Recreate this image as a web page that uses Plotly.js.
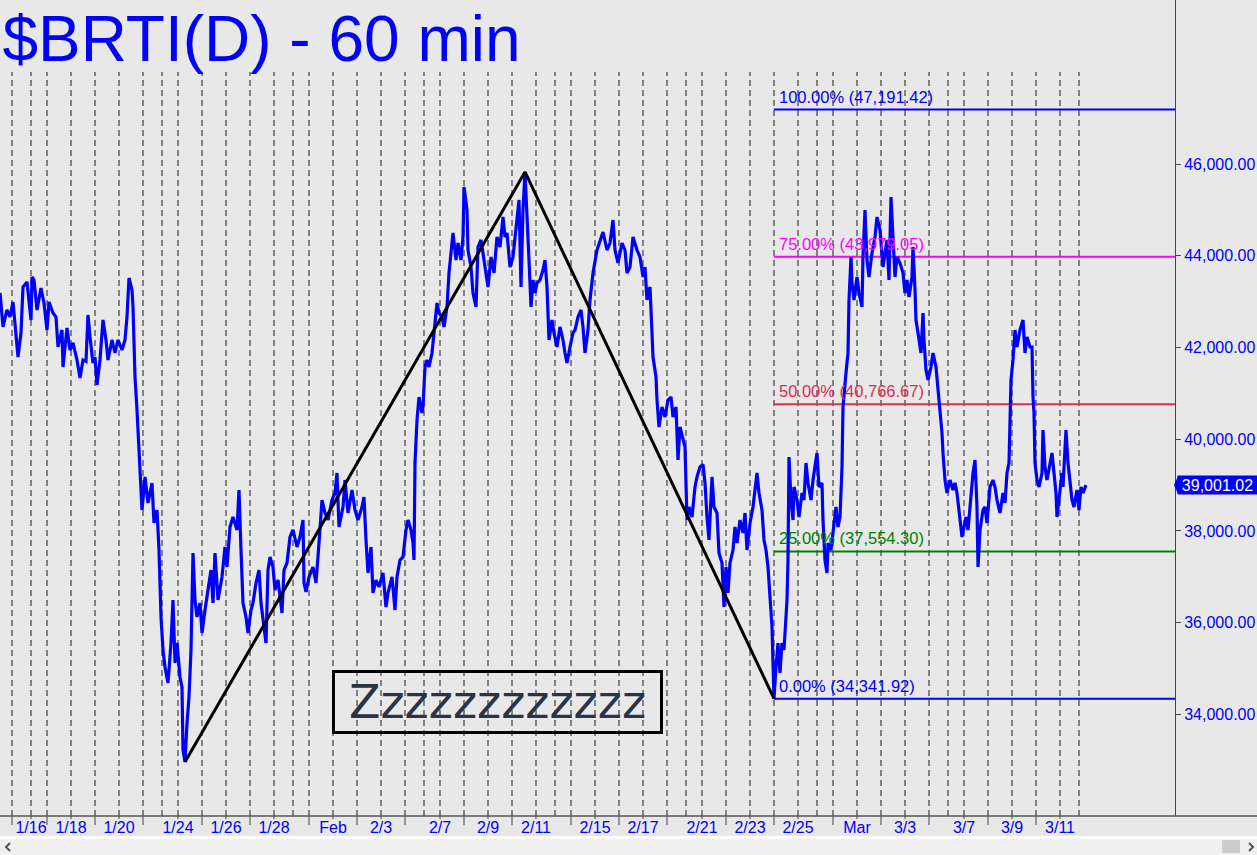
<!DOCTYPE html>
<html><head><meta charset="utf-8">
<script src="https://cdn.plot.ly/plotly-3.0.1.min.js"></script>
<style>html,body{margin:0;padding:0;background:#e8e8e8;overflow:hidden}#chart{width:1257px;height:855px}</style>
</head><body><div id="chart"></div>
<script>
// ---------- DATA ----------
const titleText = '$BRTI(D) - 60 min';
const firstSessionBar = 12;              // hourly bar index where the 1/14 session starts
const firstSession = [2022, 0, 14];
const lastSession = [2022, 2, 13];
const labeledDays = ['1/16','1/18','1/20','1/24','1/26','1/28','2/1','2/3','2/7','2/9','2/11','2/15','2/17','2/21','2/23','2/25','3/1','3/3','3/7','3/9','3/11'];
const monthLabels = {'2/1':'Feb','3/1':'Mar'};

// [hourly bar index, price]
const hourlyPath = [
[0,43191],[3,42450],[7,42820],[10,42668],[13,42995],[15,42450],[18,41795],[21,42319],[23,43322],[27,43430],
[28,43191],[31,42602],[32,43540],[34,43474],[37,42820],[41,43300],[44,42973],[47,42384],[49,42995],[53,42755],
[56,42668],[58,42013],[62,42384],[63,41577],[67,42428],[70,41947],[73,42101],[77,41730],[80,41337],[83,41730],
[86,41700],[88,42711],[90,42231],[93,41664],[95,41795],[97,41184],[100,41730],[103,42602],[106,42166],[108,41730],
[112,42166],[115,41882],[118,42166],[122,41947],[125,42166],[127,42668],[129,43518],[132,43256],[133,42886],[135,41359],
[137,40639],[138,40137],[140,39483],[142,38458],[145,39178],[148,38611],[152,39047],[154,38175],[157,38458],[159,37585],
[161,36124],[163,35404],[165,35034],[168,34685],[171,35557],[173,36495],[175,35121],[177,35557],[180,34816],[182,34598],
[183,33224],[185,32962],[187,33812],[189,34379],[191,35404],[193,37520],[195,36495],[197,36124],[200,36430],[202,35776],
[205,36277],[208,36779],[211,37149],[213,36430],[215,37520],[218,36495],[222,36997],[225,37651],[227,37215],[230,38087],
[233,38305],[237,38022],[239,38894],[241,37585],[243,36430],[246,36124],[248,35776],[251,36277],[253,36430],[256,36866],
[259,37149],[261,36430],[263,36124],[266,35557],[268,37149],[270,37433],[273,37215],[275,36713],[278,36931],[282,36212],
[284,37149],[287,37302],[290,37869],[293,38022],[297,37651],[300,37869],[303,38240],[304,36866],[306,36670],[309,36997],
[313,37215],[316,36866],[319,37738],[322,38676],[325,38393],[328,38240],[332,38676],[335,38829],[337,39265],[339,38087],
[343,38523],[345,39112],[348,38393],[352,38894],[355,38458],[358,38240],[362,38523],[364,38741],[366,37804],[368,37084],
[371,37651],[373,36648],[376,36931],[379,36779],[383,37084],[386,36342],[388,36648],[392,36997],[395,36277],[397,36997],
[400,37367],[403,37433],[406,38022],[408,38240],[411,38022],[413,37738],[414,37367],[415,39483],[417,40421],[419,40922],
[422,40573],[423,40704],[425,41577],[427,41730],[429,41577],[432,41882],[434,42319],[437,42973],[439,42755],[442,42668],
[444,42450],[447,42886],[449,43627],[452,44194],[453,44499],[456,43910],[458,44281],[461,43910],[463,44412],[464,45503],
[467,45001],[468,44128],[471,43758],[473,43191],[476,42886],[478,44194],[481,44347],[483,44063],[486,43540],[488,43322],
[491,43976],[494,43627],[497,44412],[500,44194],[503,44848],[505,44412],[507,44499],[510,43758],[513,43976],[515,44347],
[517,44783],[519,45219],[521,43322],[523,45001],[525,45830],[527,44630],[529,43910],[531,42886],[533,43474],[535,43191],
[537,43409],[540,43474],[543,43692],[545,43910],[547,43322],[549,42166],[552,42602],[554,42319],[557,42013],[560,42450],
[563,42166],[565,41882],[567,41664],[570,42013],[573,42319],[575,42384],[578,42668],[581,42820],[583,42450],[585,41882],
[588,42384],[590,43038],[593,43627],[597,44128],[600,44347],[603,44521],[607,44128],[610,44281],[613,44783],[615,44128],
[618,43845],[622,44281],[625,44128],[627,43627],[630,43758],[633,44412],[637,44128],[640,43976],[643,43540],[645,43758],
[647,43038],[650,43322],[652,42319],[653,41795],[656,41359],[657,40857],[659,40268],[662,40704],[665,40486],[668,40857],
[671,40922],[673,40486],[676,40704],[678,39548],[680,40268],[683,39984],[685,39831],[687,38240],[689,38523],[692,38305],
[695,38960],[697,39178],[700,39396],[703,39450],[705,39047],[707,38305],[709,37804],[712,39178],[714,38523],[717,38393],
[719,37520],[722,37302],[724,36342],[726,37215],[728,36648],[730,37302],[733,37585],[735,38087],[737,37738],[740,38240],
[743,37956],[745,38393],[747,37585],[750,38175],[753,38523],[755,38894],[757,39265],[759,38829],[762,38458],[764,37804],
[766,37585],[768,37215],[770,36648],[772,35906],[773,35121],[774,34341.92],[776,35034],[778,35557],[780,34903],[782,35557],
[784,35404],[786,36124],[787,36495],[788,37367],[789,39614],[791,38676],[793,38240],[794,38960],[797,38676],[799,38305],
[802,38829],[804,38676],[806,39483],[808,39047],[811,38676],[813,39112],[815,39396],[817,39701],[819,38960],[822,39047],
[823,38240],[825,37367],[827,37084],[828,37738],[831,37585],[833,37956],[836,38523],[838,38087],[840,38305],[842,39396],
[843,40704],[846,41446],[848,41882],[849,43038],[851,43976],[852,43409],[854,43038],[857,43540],[859,43191],[862,42886],
[863,43976],[865,45001],[867,43910],[869,43540],[872,44063],[875,44412],[877,44848],[880,44565],[883,43758],[887,44347],
[889,43474],[891,45284],[893,44194],[895,43540],[897,43976],[900,43845],[903,43627],[905,43191],[907,43474],[909,43104],
[912,43540],[913,44194],[915,43256],[916,42602],[918,42319],[921,41882],[923,42755],[924,42166],[926,41511],[928,41293],
[931,41577],[933,41882],[936,41577],[938,41141],[940,40704],[942,40137],[943,39701],[945,39112],[947,38829],[950,39112],
[953,38894],[955,39050],[957,38829],[959,38393],[962,37869],[964,38087],[966,38305],[968,38022],[971,38829],[973,39265],
[975,39548],[977,38523],[978,37215],[980,38022],[983,38458],[985,38523],[987,38175],[990,38960],[993,39112],[995,38960],
[997,38676],[1000,38393],[1003,38829],[1005,38611],[1007,39265],[1009,39483],[1011,41293],[1013,41730],[1015,42384],[1017,42013],
[1020,42384],[1023,42602],[1025,41882],[1027,42231],[1030,42013],[1032,42013],[1033,40922],[1034,40573],[1035,39483],[1037,39112],
[1039,38960],[1042,39265],[1043,40203],[1045,39396],[1047,39112],[1049,39330],[1052,39701],[1054,39265],[1056,38829],[1057,38305],
[1059,38676],[1062,39265],[1063,38960],[1066,40203],[1068,39483],[1070,39112],[1072,38676],[1074,38523],[1077,38894],[1079,38458],
[1081,38960],[1083,38829],[1086,39001.02]
];

const swingBars = [185, 525, 774];
const swingPrices = [32962, 45830, 34341.92];
const fibStartBar = 774;
const fibLow = 34341.92;
const fibHigh = 47191.42;
const fibPcts = [1, 0.75, 0.5, 0.25, 0];
const fibColors = ['#0000ff', '#ff00ff', '#d8304c', '#008000', '#0000ff'];
const lastPrice = 39001.02;
const yTicks = [34000, 36000, 38000, 40000, 42000, 44000, 46000];
const noteText = 'Zzzzzzzzzzzz';

// ---------- LAYOUT HELPERS ----------
const W = 1257, H = 855, ML = 0, MR = 82, MT = 0, MB = 39;
const PW = W - ML - MR, PH = H - MT - MB;
const xRange = [0, PW];
const yRange = [31784, 49581];
const px2paperX = px => (px - ML) / PW;
const py2paperY = py => (MT + PH - py) / PH;
const pxPerPrice = PH / (yRange[1] - yRange[0]);

// sessions: Mon-Thu 24 bars, Fri 19 bars, no Saturday, Sun 16 bars
const sessions = [];
{
  let bar = firstSessionBar;
  let t = Date.UTC(...firstSession);
  const end = Date.UTC(...lastSession);
  while (t <= end) {
    const d = new Date(t);
    const wd = d.getUTCDay();
    if (wd !== 6) {
      const key = (d.getUTCMonth() + 1) + '/' + d.getUTCDate();
      sessions.push({key, bar, wd});
      bar += wd === 5 ? 19 : (wd === 0 ? 16 : 24);
    }
    t += 86400000;
  }
}

const tickvals = [], ticktext = [];
const shapes = [];
const gridTop = py2paperY(72);
sessions.forEach(s => {
  shapes.push({type:'line', layer:'below', xref:'x', yref:'paper', x0:s.bar, x1:s.bar, y0:0, y1:gridTop,
    line:{color:'#2e2e2e', width:1.1, dash:'6px,4px'}});
  const labeled = labeledDays.includes(s.key);
  if (labeled) {
    tickvals.push(s.bar);
    ticktext.push(monthLabels[s.key] || s.key);
    shapes.push({type:'line', xref:'x', yref:'paper', x0:s.bar, x1:s.bar, y0:0, y1:-3/PH, line:{color:'#444', width:1}});
  } else if (s.wd !== 0) {
    shapes.push({type:'line', xref:'x', yref:'paper', x0:s.bar, x1:s.bar, y0:0, y1:-9/PH, line:{color:'#444', width:1}});
  }
});

// bottom axis line (full width) and scrollbar
shapes.push({type:'line', xref:'paper', yref:'paper', x0:0, x1:W/PW, y0:0, y1:0, line:{color:'#555', width:1.5}});
shapes.push({type:'rect', xref:'paper', yref:'paper', x0:0, x1:W/PW, y0:py2paperY(836), y1:py2paperY(860), fillcolor:'#f0f0f0', line:{width:0}});
shapes.push({type:'rect', xref:'paper', yref:'paper', x0:0, x1:W/PW, y0:py2paperY(836), y1:py2paperY(839), fillcolor:'#ffffff', line:{width:0}});
shapes.push({type:'rect', xref:'paper', yref:'paper', x0:px2paperX(1222), x1:px2paperX(1240), y0:py2paperY(840), y1:py2paperY(853), fillcolor:'#cdcdcd', line:{width:0}});
// scroll arrows (chevrons)
shapes.push({type:'path', xref:'paper', yref:'paper',
  path:`M ${px2paperX(10)},${py2paperY(843)} L ${px2paperX(6)},${py2paperY(847)} L ${px2paperX(10)},${py2paperY(851)}`,
  line:{color:'#555', width:2}});
shapes.push({type:'path', xref:'paper', yref:'paper',
  path:`M ${px2paperX(1249)},${py2paperY(843)} L ${px2paperX(1253)},${py2paperY(847)} L ${px2paperX(1249)},${py2paperY(851)}`,
  line:{color:'#555', width:2}});
// last price pointer
const tri = 9 / pxPerPrice;
shapes.push({type:'path', xref:'paper', yref:'y',
  path:`M ${px2paperX(1174)},${lastPrice} L ${px2paperX(1178)},${lastPrice + tri} L ${px2paperX(1178)},${lastPrice - tri} Z`,
  fillcolor:'#0000ff', line:{width:0}});

// ---------- TRACES ----------
const traces = [];
const fmt = v => Number((v + 1e-6).toFixed(2)).toLocaleString('en-US', {minimumFractionDigits:2, maximumFractionDigits:2});
const annotations = [];
fibPcts.forEach((p, i) => {
  const v = fibLow + p * (fibHigh - fibLow);
  traces.push({type:'scatter', mode:'lines', x:[fibStartBar, xRange[1]], y:[v, v], line:{color:fibColors[i], width:2}, hoverinfo:'skip'});
  annotations.push({xref:'x', yref:'y', x:fibStartBar + 3, y:v, xanchor:'left', yanchor:'bottom', yshift:2, showarrow:false,
    text:(p * 100).toFixed(2) + '% (' + fmt(v) + ')',
    font:{family:'Liberation Sans, Arial, sans-serif', size:16.5, color:fibColors[i]}});
});
traces.push({type:'scatter', mode:'lines', x:hourlyPath.map(d => d[0]), y:hourlyPath.map(d => d[1]),
  line:{color:'#0000ff', width:3.2}, hoverinfo:'skip'});
traces.push({type:'scatter', mode:'lines', x:swingBars, y:swingPrices, line:{color:'#000000', width:3}, hoverinfo:'skip'});

// note box
annotations.push({xref:'x', yref:'y', x:497.5, y:yRange[1] - 702 / pxPerPrice, xanchor:'center', yanchor:'middle', showarrow:false,
  text:noteText, width:323, height:56, borderpad:1, borderwidth:3, bordercolor:'#000000',
  font:{family:'DejaVu Sans, Verdana, sans-serif', size:46, color:'#2b3344'}});
// last price tag
annotations.push({xref:'paper', yref:'y', x:px2paperX(1177), y:lastPrice, xanchor:'left', yanchor:'middle', showarrow:false,
  text:fmt(lastPrice), bgcolor:'#0000ff', borderpad:0, width:79, height:18,
  font:{family:'Liberation Sans, Arial, sans-serif', size:16, color:'#ffffff'}});

const layout = {
  width:W, height:H,
  paper_bgcolor:'#e8e8e8', plot_bgcolor:'#e8e8e8',
  margin:{l:ML, r:MR, t:MT, b:MB},
  showlegend:false,
  title:{text:titleText, xref:'container', yref:'container', x:0.002, xanchor:'left', y:1 - 39 / H, yanchor:'middle',
    font:{family:'Liberation Sans, Arial, sans-serif', size:64, color:'#0000ff'}},
  xaxis:{range:xRange, tickmode:'array', tickvals, ticktext, ticks:'', showgrid:false, zeroline:false, showline:false,
    tickfont:{family:'Liberation Sans, Arial, sans-serif', size:16, color:'#0000ff'}, fixedrange:true},
  yaxis:{range:yRange, side:'right', tickmode:'array', tickvals:yTicks, tickformat:',.2f', ticks:'outside', ticklen:5, tickcolor:'#444',
    showline:true, linecolor:'#444', linewidth:1, showgrid:false, zeroline:false,
    tickfont:{family:'Liberation Sans, Arial, sans-serif', size:16, color:'#0000ff'}, fixedrange:true},
  shapes, annotations
};
Plotly.newPlot('chart', traces, layout, {displayModeBar:false, staticPlot:true});
</script></body></html>
